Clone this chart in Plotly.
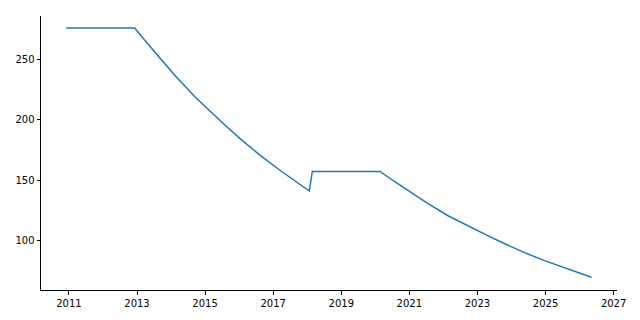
import plotly.graph_objects as go

years = [2010.92, 2012.93, 2013.52, 2014.11, 2014.70, 2015.29, 2015.58, 2016.02, 2016.61,
         2017.20, 2017.79, 2018.06,
         2018.15, 2020.14, 2020.55, 2020.97, 2021.56, 2022.15, 2022.74, 2023.33, 2023.82,
         2024.40, 2024.99, 2025.58, 2026.17, 2026.35]
values = [275.9, 275.9, 256.0, 236.8, 219.0, 203.0, 195.7, 184.6, 170.8,
          158.3, 146.6, 141.1,
          157.3, 157.3, 149.2, 141.3, 130.5, 120.5, 111.8, 103.8, 97.3,
          90.0, 83.4, 77.5, 71.8, 69.8]
x_ticks = [2011, 2013, 2015, 2017, 2019, 2021, 2023, 2025, 2027]
y_ticks = [100, 150, 200, 250]

fig = go.Figure()
fig.add_trace(go.Scatter(x=years, y=values, mode="lines",
                         line=dict(color="#1f77b4", width=1.5), showlegend=False))

axis_common = dict(showline=True, linecolor="black", linewidth=1, showgrid=False,
                   zeroline=False, ticks="outside", ticklen=3.5, tickwidth=1,
                   tickcolor="black", mirror=False,
                   tickfont=dict(family="DejaVu Sans", size=10, color="black"))

fig.update_layout(
    width=640, height=320,
    margin=dict(l=41.3, r=23.3, t=16, b=30),
    paper_bgcolor="white", plot_bgcolor="white",
    xaxis=dict(range=[2010.18, 2027.1], tickvals=x_ticks,
               ticktext=[str(t) for t in x_ticks], **axis_common),
    yaxis=dict(range=[59.3, 285.8], tickvals=y_ticks,
               ticktext=[str(t) for t in y_ticks], **axis_common),
)

fig.write_html("out.html")
